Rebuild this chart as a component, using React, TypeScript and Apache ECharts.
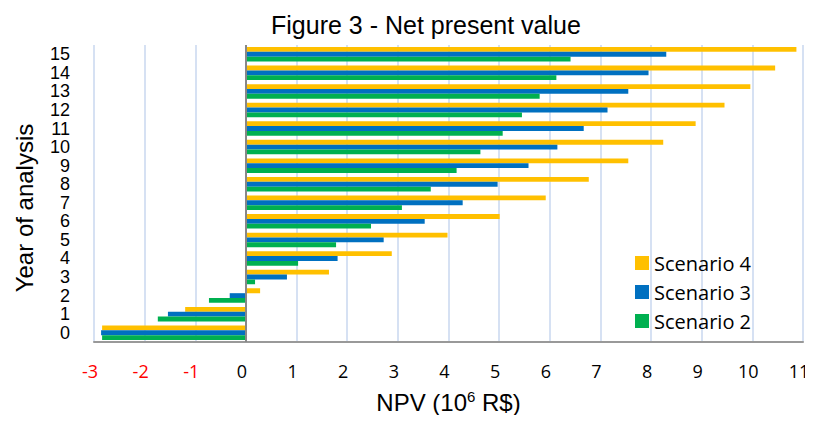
import React, { useEffect, useRef } from "react";
import * as echarts from "echarts";

const years = ["0", "1", "2", "3", "4", "5", "6", "7", "8", "9", "10", "11", "12", "13", "14", "15"];
const scenario4 = [-2.84, -1.2, 0.28, 1.64, 2.88, 3.98, 5.01, 5.92, 6.77, 7.55, 8.24, 8.88, 9.45, 9.96, 10.45, 10.87];
const scenario3 = [-2.86, -1.54, -0.32, 0.81, 1.81, 2.72, 3.53, 4.28, 4.97, 5.58, 6.15, 6.67, 7.14, 7.55, 7.95, 8.3];
const scenario2 = [-2.84, -1.74, -0.73, 0.18, 1.03, 1.78, 2.47, 3.08, 3.65, 4.16, 4.63, 5.07, 5.45, 5.8, 6.13, 6.41];

export default function App() {
  const ref = useRef<HTMLDivElement>(null);
  useEffect(() => {
    if (!ref.current) return;
    const chart = echarts.init(ref.current, undefined, { renderer: "svg" });
    const barCommon = { type: "bar", barGap: "0%", barCategoryGap: "22%" };
    chart.setOption({
      animation: false,
      backgroundColor: "#ffffff",
      title: {
        text: "Figure 3 - Net present value",
        left: 266,
        top: 7,
        textStyle: { fontFamily: "Liberation Sans", fontSize: 25, fontWeight: "normal", color: "#000" },
      },
      graphic: [
        {
          type: "text",
          x: 24,
          y: 208,
          rotation: Math.PI / 2,
          style: {
            text: "Year of analysis",
            fontFamily: "Liberation Sans",
            fontSize: 24,
            fill: "#000",
            textAlign: "center",
            textVerticalAlign: "middle",
          },
        },
      ],
      legend: {
        data: ["Scenario 4", "Scenario 3", "Scenario 2"],
        orient: "vertical",
        left: 630,
        top: 248,
        itemWidth: 14,
        itemHeight: 14,
        itemGap: 9,
        icon: "rect",
        textStyle: { fontFamily: "Open Sans", fontSize: 20, color: "#000" },
      },
      grid: { left: 94, right: 10, top: 45, bottom: 81 },
      xAxis: {
        type: "value",
        min: -3,
        max: 11,
        interval: 1,
        name: "NPV (10{sup|6} R$)",
        nameLocation: "middle",
        nameGap: 47,
        nameTextStyle: {
          fontFamily: "Liberation Sans",
          fontSize: 24,
          color: "#000",
          rich: { sup: { fontSize: 15, verticalAlign: "top", padding: [0, 0, 12, 0], fontFamily: "Liberation Sans", color: "#000" } },
        },
        axisLine: { show: true, onZero: false, lineStyle: { color: "#999", width: 2 } },
        axisTick: { show: false },
        splitLine: { show: true, lineStyle: { color: "#d6e1f3", width: 2 } },
        axisLabel: {
          margin: 20,
          padding: [0, 8, 0, 0],
          fontFamily: "Open Sans",
          fontSize: 18,
          color: (v: number) => (v < 0 ? "#ff0000" : "#000000"),
        },
      },
      yAxis: {
        type: "category",
        data: years,
        axisLine: { show: false, onZero: false },
        axisTick: { show: false },
        axisLabel: { interval: 0, margin: 24, fontFamily: "Liberation Sans", fontSize: 18, color: "#000", lineHeight: 18 },
      },
      series: [
        {
          ...barCommon,
          name: "Scenario 4",
          data: scenario4,
          itemStyle: { color: "#ffc000" },
          markLine: {
            silent: true,
            symbol: "none",
            label: { show: false },
            lineStyle: { color: "#888", width: 2, type: "solid" },
            data: [{ xAxis: 0 }],
          },
        },
        { ...barCommon, name: "Scenario 3", data: scenario3, itemStyle: { color: "#0070c0" } },
        { ...barCommon, name: "Scenario 2", data: scenario2, itemStyle: { color: "#00b050" } },
      ],
    });
    return () => chart.dispose();
  }, []);
  return <div ref={ref} style={{ width: 813, height: 423, margin: -8 }} />;
}
